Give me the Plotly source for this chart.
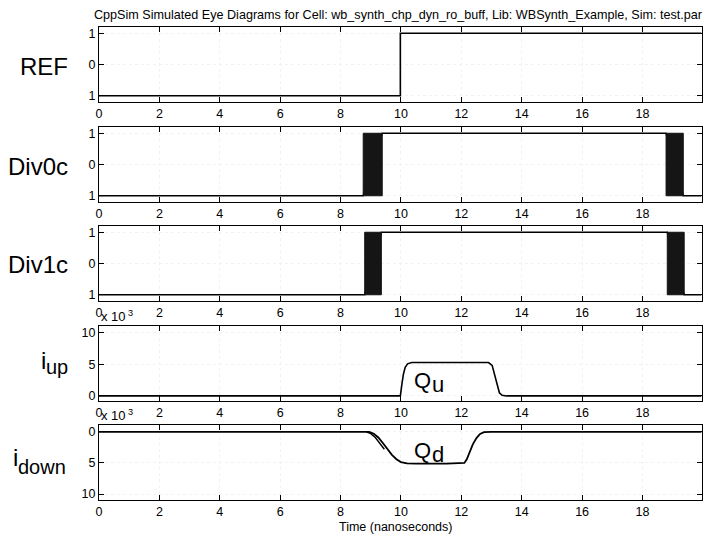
import plotly.graph_objects as go

# ---------------- data ----------------
ref_time = [0, 9.98, 9.98, 19.95]
ref_val = [-1, -1, 1, 1]

div0c_time = [0, 8.75, 9.38, 18.78, 19.35, 19.95]
div0c_val = [-1, -1, 1, 1, -1, -1]
div0c_jitter_start = [8.75, 18.78]
div0c_jitter_end = [9.38, 19.35]

div1c_time = [0, 8.80, 9.35, 18.82, 19.38, 19.95]
div1c_val = [-1, -1, 1, 1, -1, -1]
div1c_jitter_start = [8.80, 18.82]
div1c_jitter_end = [9.35, 19.38]

iup_time = [0, 9.98, 10.03, 10.08, 10.14, 10.22, 10.35, 12.9, 13.02, 13.1, 13.18, 13.26, 13.35, 13.5, 19.95]
iup_val = [0, 0, 1.8, 3.4, 4.5, 5.05, 5.25, 5.25, 4.8, 3.4, 1.6, 0.5, 0.1, 0, 0]

idown_time = [0, 8.95, 9.1, 9.25, 9.4, 9.55, 9.7, 9.85, 10.0, 10.2, 10.5, 11.5, 12.1, 12.18, 12.28, 12.38, 12.5, 12.62, 12.75, 13.0, 19.95]
idown_val = [0, 0, -0.3, -0.9, -1.8, -2.8, -3.7, -4.4, -4.85, -5.05, -5.1, -5.1, -5.0, -4.4, -3.2, -2.0, -1.0, -0.35, -0.05, 0, 0]
idown_time_b = [8.85, 9.0, 9.15, 9.3, 9.45]
idown_val_b = [0, -0.3, -0.9, -1.8, -2.8]

x_ticks = [0, 2, 4, 6, 8, 10, 12, 14, 16, 18]
y_ticks_logic = [-1, 0, 1]
y_ticktext_logic = ["1", "0", "1"]
y_ticks_iup = [0, 5, 10]
y_ticktext_iup = ["0", "5", "10"]
y_ticks_idown = [-10, -5, 0]
y_ticktext_idown = ["10", "5", "0"]

panel_labels = ["REF", "Div0c", "Div1c", "i", "i"]
panel_subs = ["", "", "", "up", "down"]

title_text = "CppSim Simulated Eye Diagrams for Cell: wb_synth_chp_dyn_ro_buff, Lib: WBSynth_Example, Sim: test.par"
xlabel_text = "Time (nanoseconds)"

# ---------------- layout helpers ----------------
# the page body has an 8px margin: work in target (window) pixels and shift
OFF = 8
W, H = 722 - OFF, 535 - OFF
ML, MR, MT, MB = 99 - OFF, 28 - OFF, 27 - OFF, 35
plot_w = W - ML - MR
plot_h = H - MT - MB
panel_tops = [27, 127, 226, 326, 425]   # window pixels
panel_h = 75

def px_x(p):   # window pixel -> paper x
    return (p - OFF - ML) / plot_w

def px_y(p):   # window pixel -> paper y
    return (H - MB - (p - OFF)) / plot_h

def dom(top):
    return [max(0.0, px_y(top + panel_h)), min(1.0, px_y(top))]

FONT = "Liberation Sans, Arial, Helvetica, sans-serif"

fig = go.Figure()

def axn(i):
    return "" if i == 1 else str(i)

def add_line(x, y, i, width=1.6):
    fig.add_trace(go.Scatter(x=x, y=y, mode="lines", line=dict(color="black", width=width),
                             xaxis="x" + axn(i), yaxis="y" + axn(i),
                             showlegend=False, hoverinfo="skip"))

def add_blocks(starts, ends, lo, hi, i):
    for s, e in zip(starts, ends):
        fig.add_trace(go.Scatter(x=[s, e, e, s, s], y=[lo, lo, hi, hi, lo], mode="lines",
                                 fill="toself", fillcolor="#151515", line=dict(color="#111", width=1),
                                 xaxis="x" + axn(i), yaxis="y" + axn(i),
                                 showlegend=False, hoverinfo="skip"))

add_line(ref_time, ref_val, 1)
add_line(div0c_time, div0c_val, 2)
add_blocks(div0c_jitter_start, div0c_jitter_end, -1, 1, 2)
add_line(div1c_time, div1c_val, 3)
add_blocks(div1c_jitter_start, div1c_jitter_end, -1, 1, 3)
add_line(iup_time, iup_val, 4)
add_line(idown_time, idown_val, 5, width=1.8)
add_line(idown_time_b, idown_val_b, 5, width=1.4)

yranges = [[-1.2, 1.2], [-1.2, 1.2], [-1.2, 1.2], [-0.8, 11], [-10.95, 1.1]]
yticks = [(y_ticks_logic, y_ticktext_logic)] * 3 + [(y_ticks_iup, y_ticktext_iup), (y_ticks_idown, y_ticktext_idown)]

layout = dict(
    width=W, height=H,
    margin=dict(l=ML, r=MR, t=MT, b=MB, autoexpand=False),
    paper_bgcolor="white", plot_bgcolor="white",
    font=dict(family=FONT, size=12, color="black"),
    showlegend=False,
)

axis_common = dict(showline=True, linecolor="black", linewidth=1, mirror="ticks",
                   ticks="inside", ticklen=5, tickwidth=1, tickcolor="black",
                   zeroline=False, showgrid=True, gridcolor="#f2f2f2", griddash="dot", gridwidth=1,
                   tickfont=dict(family=FONT, size=12.5, color="black"))

for i in range(1, 6):
    k = axn(i)
    layout["xaxis" + k] = dict(axis_common, domain=[0, 1], range=[0, 19.97],
                               tickvals=x_ticks, ticktext=[str(v) for v in x_ticks],
                               anchor="y" + k)
    tv, tt = yticks[i - 1]
    layout["yaxis" + k] = dict(axis_common, domain=dom(panel_tops[i - 1]), range=yranges[i - 1],
                               tickvals=tv, ticktext=tt, anchor="x" + k)

fig.update_layout(**layout)

ann = []
ann.append(dict(text=title_text, x=px_x(398), y=px_y(15), xref="paper", yref="paper",
                showarrow=False, xanchor="center", yanchor="middle",
                font=dict(family=FONT, size=12.6)))
ann.append(dict(text=xlabel_text, x=px_x(395), y=px_y(527), xref="paper", yref="paper",
                showarrow=False, xanchor="center", yanchor="middle",
                font=dict(family=FONT, size=12.5)))

label_y = [67, 166, 264, 360, 457]
main_left = [None, None, None, 39, 11]
sub_left = [None, None, None, 44, 16]
sub_off = [0, 0, 0, 7, 10]
for i in range(5):
    if panel_subs[i]:
        ann.append(dict(text=panel_labels[i], x=px_x(main_left[i]), y=px_y(label_y[i]),
                        xref="paper", yref="paper", showarrow=False, xanchor="left", yanchor="middle",
                        font=dict(family=FONT, size=24)))
        ann.append(dict(text=panel_subs[i], x=px_x(sub_left[i]), y=px_y(label_y[i] + sub_off[i]),
                        xref="paper", yref="paper", showarrow=False, xanchor="left", yanchor="middle",
                        font=dict(family=FONT, size=20)))
    else:
        ann.append(dict(text=panel_labels[i], x=px_x(70), y=px_y(label_y[i]),
                        xref="paper", yref="paper", showarrow=False, xanchor="right", yanchor="middle",
                        font=dict(family=FONT, size=24)))

for ytop in [316, 415]:
    ann.append(dict(text="x 10<sup> 3</sup>", x=px_x(99), y=px_y(ytop), xref="paper", yref="paper",
                    showarrow=False, xanchor="left", yanchor="middle", font=dict(family=FONT, size=13)))

# charge labels Q_u, Q_d
for (qx, qy, sub) in [(412, 380, "u"), (412, 450, "d")]:
    ann.append(dict(text="Q", x=px_x(qx), y=px_y(qy), xref="paper", yref="paper", showarrow=False,
                    xanchor="left", yanchor="middle", font=dict(family=FONT, size=22)))
    ann.append(dict(text=sub, x=px_x(qx + 18), y=px_y(qy + 4), xref="paper", yref="paper", showarrow=False,
                    xanchor="left", yanchor="middle", font=dict(family=FONT, size=22)))

fig.update_layout(annotations=ann)
fig.write_html("out.html")
